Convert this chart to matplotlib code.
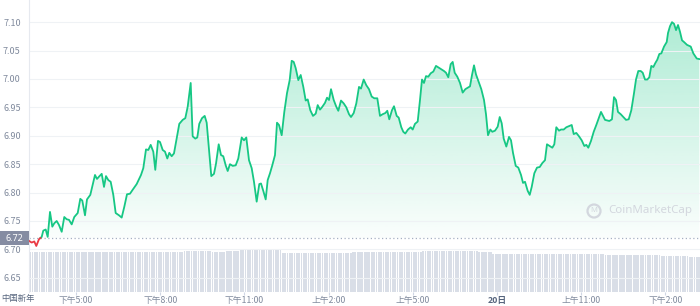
import numpy as np
import matplotlib
matplotlib.use('Agg')
import matplotlib.pyplot as plt
from matplotlib.colors import to_rgb
from matplotlib.patches import Polygon, Rectangle, Circle
from matplotlib.transforms import blended_transform_factory

plt.rcParams['font.family'] = ['Noto Sans CJK SC', 'DejaVu Sans']

# hours after the 下午5:00 tick, price in USD
hours = [
    -1.674, -1.578, -1.486, -1.414, -1.318, -1.222, -1.165, -1.079, -1.008, -0.926,
    -0.844, -0.773, -0.688, -0.606, -0.509, -0.417, -0.331, -0.249, -0.153, -0.061,
    0.061, 0.153, 0.224, 0.321, 0.392, 0.510, 0.677, 0.748, 0.819, 0.916,
    0.998, 1.069, 1.151, 1.236, 1.329, 1.414, 1.532, 1.628, 1.721, 1.817,
    1.924, 2.006, 2.162, 2.316, 2.398, 2.494, 2.576, 2.661, 2.754, 2.825,
    2.921, 2.993, 3.089, 3.171, 3.253, 3.324, 3.409, 3.491, 3.587, 3.680,
    3.801, 3.894, 3.979, 4.086, 4.157, 4.250, 4.321, 4.392, 4.489, 4.585,
    4.656, 4.738, 4.820, 4.916, 4.988, 5.084, 5.166, 5.247, 5.333, 5.404,
    5.486, 5.583, 5.690, 5.782, 5.903, 5.985, 6.067, 6.163, 6.259, 6.341,
    6.437, 6.530, 6.591, 6.672, 6.758, 6.829, 6.911, 6.993, 7.089, 7.161,
    7.232, 7.328, 7.421, 7.517, 7.613, 7.685, 7.756, 7.827, 7.920, 8.005,
    8.098, 8.183, 8.255, 8.347, 8.443, 8.540, 8.611, 8.693, 8.775, 8.871,
    8.943, 9.014, 9.085, 9.181, 9.274, 9.345, 9.441, 9.537, 9.630, 9.726,
    9.797, 9.893, 9.986, 10.082, 10.153, 10.249, 10.342, 10.438, 10.534, 10.627,
    10.734, 10.830, 10.926, 11.019, 11.090, 11.161, 11.257, 11.329, 11.425, 11.496,
    11.589, 11.660, 11.731, 11.828, 11.924, 11.995, 12.077, 12.173, 12.255, 12.326,
    12.397, 12.469, 12.551, 12.636, 12.729, 12.825, 12.921, 13.014, 13.110, 13.181,
    13.263, 13.348, 13.420, 13.491, 13.584, 13.680, 13.776, 13.869, 13.965, 14.036,
    14.108, 14.179, 14.250, 14.346, 14.439, 14.535, 14.606, 14.678, 14.760, 14.831,
    14.927, 15.023, 15.095, 15.166, 15.237, 15.330, 15.426, 15.497, 15.568, 15.665,
    15.757, 15.854, 15.925, 15.996, 16.092, 16.164, 16.235, 16.328, 16.424, 16.520,
    16.613, 16.708, 16.779, 16.876, 16.969, 17.040, 17.111, 17.207, 17.279, 17.375,
    17.468, 17.564, 17.660, 17.731, 17.824, 17.920, 18.016, 18.109, 18.180, 18.251,
    18.347, 18.443, 18.536, 18.632, 18.703, 18.775, 18.846, 19.000, 19.094, 19.166,
    19.237, 19.308, 19.405, 19.497, 19.594, 19.690, 19.783, 19.879, 19.950, 20.032,
    20.118, 20.189, 20.271, 20.353, 20.424, 20.495, 20.567, 20.638, 20.709, 20.781,
    20.852, 20.948, 21.044, 21.091, 21.162, 21.233, 21.305, 21.376, 21.447, 21.518,
    21.590, 21.661, 21.768, 21.900, 21.993, 22.114, 22.207,
]
price = [
    6.715, 6.712, 6.714, 6.706, 6.718, 6.722, 6.733, 6.735, 6.722, 6.766,
    6.740, 6.746, 6.750, 6.743, 6.731, 6.757, 6.753, 6.752, 6.744, 6.757,
    6.764, 6.789, 6.786, 6.760, 6.788, 6.796, 6.831, 6.824, 6.828, 6.833,
    6.810, 6.829, 6.822, 6.819, 6.796, 6.764, 6.760, 6.756, 6.775, 6.797,
    6.798, 6.804, 6.815, 6.831, 6.843, 6.876, 6.875, 6.884, 6.872, 6.840,
    6.891, 6.889, 6.875, 6.872, 6.860, 6.870, 6.864, 6.869, 6.895, 6.921,
    6.928, 6.931, 6.951, 6.993, 6.899, 6.895, 6.897, 6.921, 6.931, 6.935,
    6.923, 6.875, 6.829, 6.833, 6.851, 6.885, 6.866, 6.864, 6.848, 6.838,
    6.850, 6.847, 6.848, 6.860, 6.897, 6.892, 6.897, 6.857, 6.843, 6.819,
    6.784, 6.815, 6.816, 6.803, 6.788, 6.822, 6.834, 6.848, 6.866, 6.923,
    6.919, 6.901, 6.942, 6.975, 6.998, 7.032, 7.030, 7.019, 6.998, 7.007,
    6.986, 6.962, 6.964, 6.945, 6.935, 6.939, 6.954, 6.946, 6.951, 6.958,
    6.967, 6.963, 6.982, 6.963, 6.951, 6.944, 6.962, 6.957, 6.950, 6.938,
    6.933, 6.940, 6.957, 6.986, 6.983, 6.999, 6.989, 6.982, 6.969, 6.966,
    6.966, 6.935, 6.938, 6.940, 6.944, 6.929, 6.945, 6.952, 6.935, 6.932,
    6.915, 6.907, 6.904, 6.911, 6.915, 6.911, 6.921, 6.925, 6.963, 6.999,
    6.993, 7.005, 7.004, 7.010, 7.013, 7.023, 7.020, 7.017, 7.014, 7.011,
    7.003, 7.026, 7.030, 7.011, 7.004, 6.993, 6.976, 6.982, 6.985, 6.987,
    7.007, 7.024, 7.008, 6.995, 6.982, 6.963, 6.938, 6.901, 6.911, 6.907,
    6.909, 6.916, 6.933, 6.922, 6.895, 6.881, 6.898, 6.892, 6.870, 6.847,
    6.844, 6.831, 6.817, 6.819, 6.803, 6.796, 6.810, 6.834, 6.844, 6.845,
    6.852, 6.857, 6.885, 6.882, 6.879, 6.885, 6.915, 6.909, 6.911, 6.911,
    6.915, 6.917, 6.919, 6.903, 6.905, 6.899, 6.892, 6.882, 6.884, 6.879,
    6.891, 6.907, 6.919, 6.932, 6.942, 6.935, 6.928, 6.926, 6.929, 6.968,
    6.963, 6.942, 6.938, 6.933, 6.928, 6.929, 6.945, 6.975, 6.999, 7.014,
    7.014, 7.011, 6.999, 6.999, 7.003, 7.023, 7.021, 7.028, 7.034, 7.044,
    7.045, 7.057, 7.065, 7.081, 7.093, 7.100, 7.097, 7.086, 7.095, 7.083,
    7.068, 7.065, 7.060, 7.057, 7.045, 7.036, 7.035,
]
# volume per half hour (arbitrary units), drawn as 5-minute bars
volume = [
    400, 401, 400, 402, 401, 404, 405, 405, 404, 406,
    408, 410, 410, 409, 410, 425, 427, 426, 393, 394,
    392, 393, 395, 403, 404, 405, 404, 405, 410, 411,
    412, 410, 409, 387, 388, 386, 387, 386, 385, 386,
    384, 372, 371, 370, 369, 362, 360, 358,
]
base_price = 6.72
tick_hours = [0, 3, 6, 9, 12, 15, 18, 21]
tick_labels = ['下午5:00', '下午8:00', '下午11:00', '上午2:00', '上午5:00',
               '20日', '上午11:00', '下午2:00']
y_ticks = [6.65, 6.70, 6.75, 6.80, 6.85, 6.90, 6.95, 7.00, 7.05, 7.10]

GREEN = '#16c784'
RED = '#ea3943'
GREY = '#808a9d'


def split_at_base(t, v, base):
    '''Insert the crossing points so the colour changes right on the base line.'''
    xs, ys = [t[0]], [v[0]]
    for i in range(1, len(t)):
        if (v[i - 1] - base) * (v[i] - base) < 0:
            f = (base - v[i - 1]) / (v[i] - v[i - 1])
            xs.append(t[i - 1] + f * (t[i] - t[i - 1]))
            ys.append(base)
        xs.append(t[i])
        ys.append(v[i])
    return np.array(xs), np.array(ys)


fig = plt.figure(figsize=(7, 3.06), dpi=100)
ax = fig.add_axes([29 / 700, 14 / 306, 671 / 700, 292 / 306])
x_min, x_max = hours[0], 22.23
y_min, y_max = 6.625, 7.139

# volume bars on their own scale, under the price line
ax2 = ax.twinx()
bar_vol = np.repeat(volume, 6)
bar_x = hours[0] + (np.arange(len(bar_vol)) + 0.5) / 12
ax2.bar(bar_x, bar_vol, width=0.062, color='#d9dee7', linewidth=0, zorder=1)
ax2.set_ylim(0, 2950)
ax2.axis('off')
ax.set_zorder(ax2.get_zorder() + 1)
ax.patch.set_visible(False)

# price gradient fill
t = np.array(hours)
v = np.array(price)
poly = Polygon(np.column_stack([np.r_[t, t[::-1]],
                                np.r_[v, np.full(len(t), base_price)]]),
               facecolor='none', edgecolor='none')
ax.add_patch(poly)
rgba = np.zeros((256, 1, 4))
rgba[..., :3] = to_rgb(GREEN)
rgba[..., 3] = np.linspace(0.34, 0.02, 256)[:, None]
im = ax.imshow(rgba, extent=[x_min, x_max, base_price, 7.10], aspect='auto',
               origin='upper', zorder=1, interpolation='bilinear')
im.set_clip_path(poly)

xs, ys = split_at_base(t, v, base_price)
ax.plot(xs, np.ma.masked_where(ys < base_price, ys), color=GREEN, lw=1.3,
        zorder=3, solid_joinstyle='round')
ax.plot(xs, np.ma.masked_where(ys > base_price, ys), color=RED, lw=1.3,
        zorder=3, solid_joinstyle='round')
ax.axhline(base_price, color='#a6b0c3', lw=0.9, ls=(0, (1, 2)), zorder=2)

ax.set_xlim(x_min, x_max)
ax.set_ylim(y_min, y_max)
ax.set_yticks(y_ticks)
ax.set_yticklabels([f'{y:.2f}' for y in y_ticks])
ax.set_xticks(tick_hours)
ax.set_xticklabels(tick_labels)
ax.tick_params(axis='y', length=0, pad=6, labelsize=6.5, labelcolor=GREY)
ax.tick_params(axis='x', length=2.5, width=0.8, color='#cfd6e4', pad=0.5,
               labelsize=6.3, labelcolor=GREY)
lbl = ax.get_xticklabels()[5]
lbl.set_fontweight('bold')
lbl.set_color('#58667e')
ax.grid(axis='y', color='#eff2f5', lw=0.8, zorder=0)
for side in ['top', 'right', 'bottom']:
    ax.spines[side].set_visible(False)
ax.spines['left'].set_color('#e6e9ef')
ax.spines['left'].set_linewidth(0.8)

# current-price tag on the y axis
trans = blended_transform_factory(ax.transAxes, ax.transData)
ax.add_patch(Rectangle((-29 / 671, base_price - 0.0123), 29 / 671, 0.0246,
                       transform=trans, facecolor='#858ca2', edgecolor='none',
                       clip_on=False, zorder=5))
ax.text(-14.5 / 671, base_price, f'{base_price:.2f}', transform=trans,
        ha='center', va='center', fontsize=6.5, fontweight='bold',
        color='white', zorder=6, family=['Noto Sans', 'DejaVu Sans'])

fig.text(1 / 700, 7.5 / 306, '中国新年', ha='left', va='center',
         fontsize=6.0, color='#58667e')

# watermark
fig.patches.append(Circle((5.94, 0.95), 0.065, transform=fig.dpi_scale_trans,
                          fill=False, lw=1.6, edgecolor='#d3d7de'))
fig.text(594 / 700, 95 / 306, 'M', ha='center', va='center', fontsize=5.5,
         fontweight='bold', color='#d3d7de', family=['Noto Sans', 'DejaVu Sans'])
fig.text(608 / 700, 95 / 306, 'CoinMarketCap', ha='left', va='center',
         fontsize=8.3, fontweight='bold', color='#d3d7de',
         family=['Noto Sans', 'DejaVu Sans'])

fig.savefig('out.png', dpi=100)
